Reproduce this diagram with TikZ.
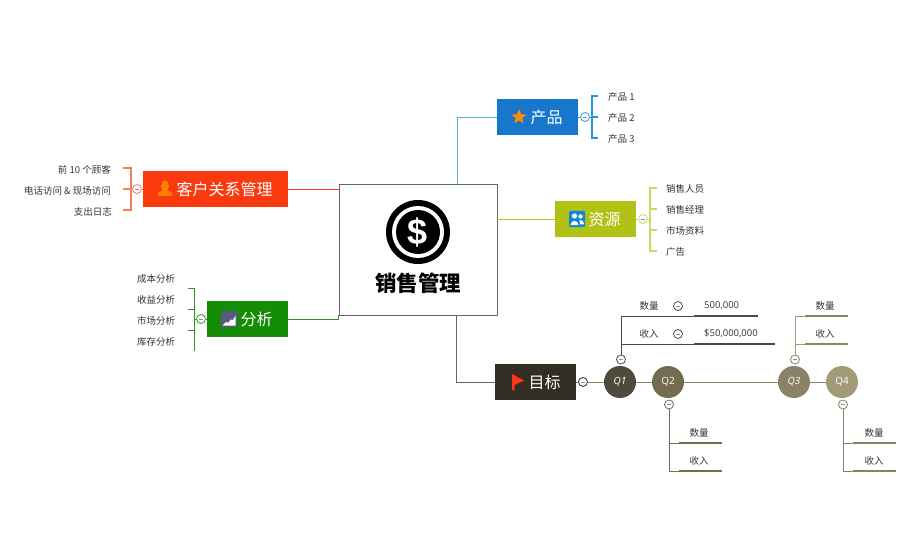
\documentclass[tikz,border=0pt]{standalone}
\usepackage{fontspec}
\setmainfont{Noto Sans CJK SC}
\newfontfamily\latinfont{Open Sans}
\newfontfamily\dollarfont{Liberation Sans}
\usetikzlibrary{positioning,calc,shapes.geometric}
\definecolor{ink}{HTML}{333333}
\definecolor{frame}{HTML}{666666}
\definecolor{redfill}{HTML}{F9390E}
\definecolor{redline}{HTML}{FA7A60}
\definecolor{bluefill}{HTML}{1677CC}
\definecolor{blueline}{HTML}{2A94E0}
\definecolor{bluestem}{HTML}{5AA9E0}
\definecolor{limefill}{HTML}{B2C116}
\definecolor{limeline}{HTML}{CBD766}
\definecolor{greenfill}{HTML}{148C04}
\definecolor{greenline}{HTML}{2E9420}
\definecolor{darkfill}{HTML}{322E24}
\definecolor{qone}{HTML}{4F4A3C}
\definecolor{qtwo}{HTML}{746C50}
\definecolor{qthree}{HTML}{8A8166}
\definecolor{qfour}{HTML}{A39A78}
\definecolor{olive}{HTML}{8A8263}
\definecolor{minusmark}{HTML}{7F8FB8}
\tikzset{
  topic/.style={minimum width=#1,minimum height=36pt,inner sep=0pt,font=\fontsize{16}{16}\selectfont,text=white},
  item/.style={font=\fontsize{9.5}{11}\selectfont,text=ink,inner sep=0pt},
  quarter/.style={circle,minimum size=32pt,inner sep=0pt,font=\latinfont\fontsize{10}{10}\selectfont,text=white},
  collapse/.style={circle,draw=#1,fill=white,line width=0.8pt,minimum size=9pt,inner sep=0pt,
    path picture={\draw[minusmark,line width=0.8pt] ([xshift=-2pt]path picture bounding box.center) -- ([xshift=2pt]path picture bounding box.center);}},
  stem/.style={draw=#1,line width=0.9pt},
  bar/.style={draw=#1,line width=2.4pt},
}
\begin{document}
\begin{tikzpicture}[x=1pt,y=-1pt]
\useasboundingbox (0,0) rectangle (903,559);

% central topic
\node[draw=frame,fill=white,line width=0.9pt,minimum width=158pt,minimum height=131pt,inner sep=0pt] (sales) at (418,249.5) {};
\node[circle,fill=black,minimum size=64pt,inner sep=0pt] (coinout) at (418,232) {};
\node[circle,fill=white,minimum size=52pt,inner sep=0pt] (coinring) at (418,232) {};
\node[circle,fill=black,minimum size=44pt,text=white,inner sep=0pt,font=\dollarfont\bfseries\fontsize{36}{36}\selectfont] (coin) at (418,232) {\$};
\node[font=\bfseries\fontsize{21.5}{22}\selectfont,text=black,inner sep=0pt] (salestitle) at (418,283) {销售管理};

% product
\node[topic=81pt,fill=bluefill] (product) at (537.5,117) {\hspace{18pt}产品};
\node[star,star points=5,star point ratio=2.3,fill=orange!90!yellow,minimum size=16pt,inner sep=0pt] (producticon) at (519,117) {};
\draw[stem=bluestem] ([xshift=39pt]sales.north) |- (product.west);
\node[collapse=blueline] (productminus) at (585,117) {};
\draw[stem=blueline] (product.east) -- (productminus);
\coordinate (productfork) at (592,117);
\draw[stem=blueline] (productminus) -- (productfork);
\draw[stem=blueline,line width=1.2pt] (598,96) -- (592,96) -- (592,138) -- (598,138);
\draw[stem=blueline,line width=1.2pt] (productfork) -- (598,117);
\node[item,anchor=west] (product1) at (608,97) {产品 1};
\node[item,anchor=west] (product2) at (608,118) {产品 2};
\node[item,anchor=west] (product3) at (608,139) {产品 3};

% resource
\node[topic=81pt,fill=limefill] (resource) at (595.5,219) {\hspace{18pt}资源};
\node[fill=cyan!70!blue,rounded corners=1pt,minimum size=16pt,inner sep=0pt] (resourceicon) at (577,219) {};
\fill[white] (574.5,216) circle (2.6pt) (570.5,225) .. controls (571,219.5) and (578,219.5) .. (578.5,225) -- cycle;
\fill[white] (580.5,216.5) circle (2.2pt) (579.5,220) .. controls (582,219.5) and (583.5,221) .. (584,224.5) -- (580,224.5) -- cycle;
\draw[stem=limefill] (sales.east |- resource.west) -- (resource.west);
\node[collapse=limeline] (resourceminus) at (643,219) {};
\draw[stem=limeline] (resource.east) -- (resourceminus);
\coordinate (resourcefork) at (650,219);
\draw[stem=limeline] (resourceminus) -- (resourcefork);
\draw[stem=limeline,line width=1.2pt] (657,188) -- (650,188) -- (650,251) -- (657,251);
\draw[stem=limeline,line width=1.2pt] (650,209) -- (657,209) (650,230) -- (657,230);
\node[item,anchor=west] (resource1) at (666,189) {销售人员};
\node[item,anchor=west] (resource2) at (666,210) {销售经理};
\node[item,anchor=west] (resource3) at (666,231) {市场资料};
\node[item,anchor=west] (resource4) at (666,252) {广告};

% customer relations
\node[topic=145pt,fill=redfill] (customer) at (215.5,189) {\hspace{18pt}客户关系管理};
\fill[orange] (165,186) ellipse (4pt and 5.5pt);
\fill[orange] (157.5,196) .. controls (157.5,191) and (161,191) .. (165,190) .. controls (169,191) and (172.5,191) .. (172.5,196) -- cycle;
\draw[stem=redfill] (customer.east) -- (customer.east -| sales.west);
\node[collapse=redline] (customerminus) at (137,189) {};
\draw[stem=redline] (customer.west) -- (customerminus);
\coordinate (customerfork) at (131,189);
\draw[stem=redline] (customerminus) -- (customerfork);
\draw[stem=redline,line width=1.2pt] (123,168) -- (131,168) -- (131,210) -- (123,210);
\draw[stem=redline,line width=1.2pt] (customerfork) -- (123,189);
\node[item,anchor=east] (customer1) at (111,170) {前 10 个顾客};
\node[item,anchor=east] (customer2) at (111,191) {电话访问 \& 现场访问};
\node[item,anchor=east] (customer3) at (112,212) {支出日志};

% analysis
\node[topic=81pt,fill=greenfill] (analysis) at (247.5,319) {\hspace{18pt}分析};
\node[fill=black!45!blue!30!gray,rounded corners=1pt,minimum size=16pt,inner sep=0pt] (analysisicon) at (229,319) {};
\fill[white] (222.5,325.5) -- (226,322) -- (228,323) -- (231,319.5) -- (233,320) -- (235.5,315.5) -- (235.5,325.5) -- cycle;
\draw[stem=greenline] (analysis.east) -| (sales.west |- sales.south);
\node[collapse=greenline] (analysisminus) at (201,319) {};
\draw[stem=greenline] (analysis.west) -- (analysisminus);
\coordinate (analysisfork) at (194,319);
\draw[stem=greenline] (analysisminus) -- (analysisfork);
\draw[stem=greenline] (188,288) -- (194,288) -- (194,351);
\draw[stem=greenline] (188,309) -- (194,309) (188,330) -- (194,330);
\node[item] (analysis1) at (156,279) {成本分析};
\node[item] (analysis2) at (156,300) {收益分析};
\node[item] (analysis3) at (156,321) {市场分析};
\node[item] (analysis4) at (156,342) {库存分析};

% target
\node[topic=81pt,fill=darkfill] (target) at (535.5,382) {\hspace{18pt}目标};
\fill[red!75!orange!90!white] (512,374) -- (524,380.5) -- (514.5,385) -- (514.5,390) -- (512,390) -- cycle;
\draw[stem=frame] ([xshift=38pt]sales.south) |- (target.west);
\node[quarter,fill=qone,font=\latinfont\itshape\fontsize{10}{10}\selectfont] (q1) at (620,382) {Q1};
\node[quarter,fill=qtwo] (q2) at (668,382) {Q2};
\node[quarter,fill=qthree,font=\latinfont\itshape\fontsize{10}{10}\selectfont] (q3) at (794,382) {Q3};
\node[quarter,fill=qfour] (q4) at (842,382) {Q4};
\begin{scope}[on background layer/.try]
\end{scope}
\node[collapse=darkfill] (targetminus) at (583,382) {};
\draw[stem=olive] (target.east) -- (targetminus);
\draw[stem=olive] (targetminus) -- (q1);
\draw[stem=olive] (q1) -- (q2);
\draw[stem=olive] (q2) -- (q3);
\draw[stem=olive] (q3) -- (q4);

% Q1 branch
\node[collapse=qone] (q1minus) at (621,359.5) {};
\coordinate (q1a) at (694,316);
\coordinate (q1b) at (694,344);
\coordinate (q1aend) at (758,316);
\coordinate (q1bend) at (775,344);
\draw[stem=qone] (q1minus) -- (q1minus |- q1a) -- (q1a);
\draw[stem=qone] (q1minus |- q1b) -- (q1b);
\draw[bar=qone] (q1a) -- (q1aend);
\draw[bar=qone] (q1b) -- (q1bend);
\node[item] (q1count) at (649,306) {数量};
\node[item] (q1income) at (649,334) {收入};
\node[collapse=qone] (q1countminus) at (678,306) {};
\node[collapse=qone] (q1incomeminus) at (678,334) {};
\node[item,anchor=west,font=\latinfont\fontsize{9.5}{11}\selectfont] (q1countval) at (704,306) {500,000};
\node[item,anchor=west,font=\latinfont\fontsize{9.5}{11}\selectfont] (q1incomeval) at (704,334) {\$50,000,000};

% Q2 branch
\node[collapse=qtwo] (q2minus) at (669,404.5) {};
\coordinate (q2a) at (679,443);
\coordinate (q2b) at (679,471);
\coordinate (q2aend) at (722,443);
\coordinate (q2bend) at (722,471);
\draw[stem=qtwo] (q2minus) -- (q2minus |- q2b) -- (q2b);
\draw[stem=qtwo] (q2minus |- q2a) -- (q2a);
\draw[bar=qtwo] (q2a) -- (q2aend);
\draw[bar=qtwo] (q2b) -- (q2bend);
\node[item] (q2count) at (699,433) {数量};
\node[item] (q2income) at (699,461) {收入};

% Q3 branch
\node[collapse=qthree] (q3minus) at (795,359.5) {};
\coordinate (q3a) at (805,316);
\coordinate (q3b) at (805,344);
\coordinate (q3aend) at (848,316);
\coordinate (q3bend) at (848,344);
\draw[stem=qfour] (q3minus) -- (q3minus |- q3a) -- (q3a);
\draw[stem=qfour] (q3minus |- q3b) -- (q3b);
\draw[bar=qthree] (q3a) -- (q3aend);
\draw[bar=qthree] (q3b) -- (q3bend);
\node[item] (q3count) at (825,306) {数量};
\node[item] (q3income) at (825,334) {收入};

% Q4 branch
\node[collapse=qthree] (q4minus) at (843,404.5) {};
\coordinate (q4a) at (853,443);
\coordinate (q4b) at (853,471);
\coordinate (q4aend) at (896,443);
\coordinate (q4bend) at (896,471);
\draw[stem=qthree] (q4minus) -- (q4minus |- q4b) -- (q4b);
\draw[stem=qthree] (q4minus |- q4a) -- (q4a);
\draw[bar=qthree] (q4a) -- (q4aend);
\draw[bar=qthree] (q4b) -- (q4bend);
\node[item] (q4count) at (874,433) {数量};
\node[item] (q4income) at (874,461) {收入};

\end{tikzpicture}
\end{document}
